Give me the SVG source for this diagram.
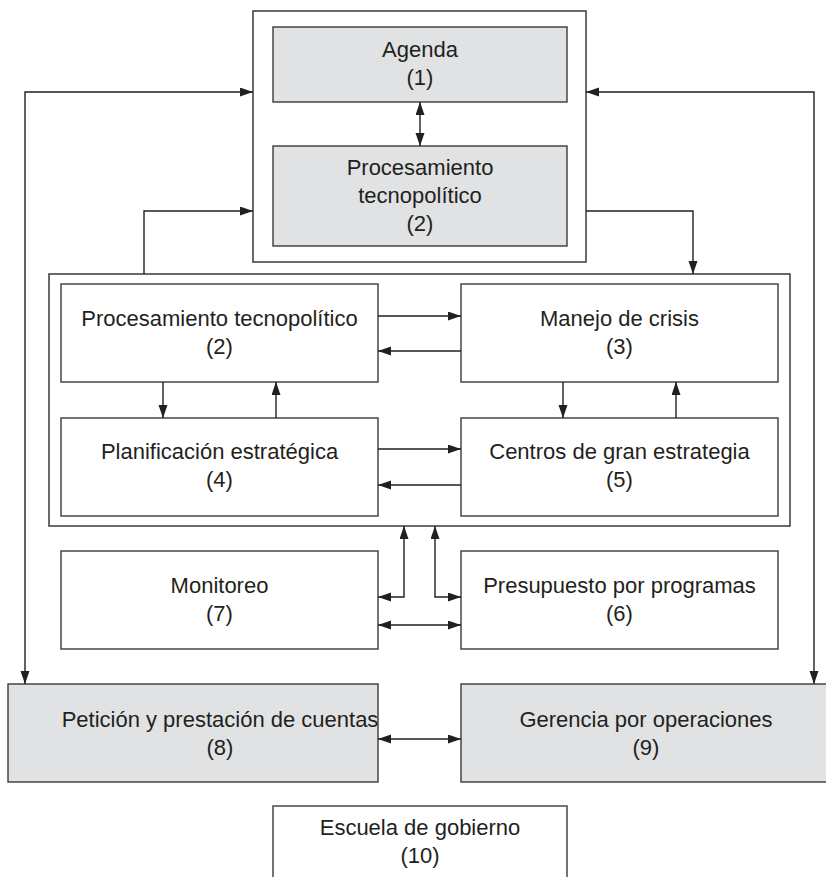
<svg xmlns="http://www.w3.org/2000/svg" width="826" height="877" viewBox="0 0 826 877">
<defs>
<marker id="ah" markerUnits="userSpaceOnUse" markerWidth="14" markerHeight="10" refX="13" refY="4.5" orient="auto-start-reverse">
<path d="M0,0 L13,4.5 L0,9 z" fill="#231f20"/>
</marker>
<style>
.bx{fill:#ffffff;stroke:#3a3a3a;stroke-width:1.4}
.gr{fill:#e1e2e4;stroke:#3a3a3a;stroke-width:1.4}
.frame{fill:none;stroke:#3a3a3a;stroke-width:1.5}
.t{font-family:"Liberation Sans",Arial,sans-serif;font-size:22px;fill:#231f20;text-anchor:middle}
.c{fill:none;stroke:#231f20;stroke-width:1.4}
.one{marker-end:url(#ah)}
.two{marker-start:url(#ah);marker-end:url(#ah)}
</style>
</defs>
<rect width="826" height="877" fill="#ffffff"/>
<g id="frames">
<rect class="frame" x="253" y="11" width="333" height="251"/>
<rect class="frame" x="49" y="274" width="741" height="252"/>
</g>
<g id="n1"><rect class="gr" x="273" y="27" width="294" height="75"/>
<text class="t" x="420" y="57">Agenda</text><text class="t" x="420" y="85">(1)</text></g>
<g id="n2top"><rect class="gr" x="273" y="146" width="294" height="100"/>
<text class="t" x="420" y="175">Procesamiento</text><text class="t" x="420" y="203">tecnopolítico</text><text class="t" x="420" y="231">(2)</text></g>
<g id="n2"><rect class="bx" x="61" y="284" width="317" height="98"/>
<text class="t" x="219.5" y="326">Procesamiento tecnopolítico</text><text class="t" x="219.5" y="354">(2)</text></g>
<g id="n3"><rect class="bx" x="461" y="284" width="317" height="98"/>
<text class="t" x="619.5" y="326">Manejo de crisis</text><text class="t" x="619.5" y="354">(3)</text></g>
<g id="n4"><rect class="bx" x="61" y="418" width="317" height="98"/>
<text class="t" x="219.5" y="459">Planificación estratégica</text><text class="t" x="219.5" y="487">(4)</text></g>
<g id="n5"><rect class="bx" x="461" y="418" width="317" height="98"/>
<text class="t" x="619.5" y="459">Centros de gran estrategia</text><text class="t" x="619.5" y="487">(5)</text></g>
<g id="n7"><rect class="bx" x="61" y="551" width="317" height="98"/>
<text class="t" x="219.5" y="593">Monitoreo</text><text class="t" x="219.5" y="621">(7)</text></g>
<g id="n6"><rect class="bx" x="461" y="551" width="317" height="98"/>
<text class="t" x="619.5" y="593">Presupuesto por programas</text><text class="t" x="619.5" y="621">(6)</text></g>
<g id="n8"><rect class="gr" x="8" y="684" width="370" height="98"/>
<text class="t" x="220" y="727">Petición y prestación de cuentas</text><text class="t" x="220" y="755">(8)</text></g>
<g id="n9"><rect class="gr" x="461" y="684" width="370" height="98"/>
<text class="t" x="646" y="727">Gerencia por operaciones</text><text class="t" x="646" y="755">(9)</text></g>
<g id="n10"><rect class="bx" x="273" y="806" width="294" height="90"/>
<text class="t" x="420" y="835">Escuela de gobierno</text><text class="t" x="420" y="863">(10)</text></g>
<g id="connectors">
<path class="c two" d="M25,684 V92 H253"/>
<path class="c two" d="M814,684 V92 H586"/>
<path class="c one" d="M144,274 V211 H253"/>
<path class="c one" d="M586,211 H693 V274"/>
<path class="c two" d="M420,102 V146"/>
<path class="c one" d="M378,316 H461"/>
<path class="c one" d="M461,351 H378"/>
<path class="c one" d="M378,449 H461"/>
<path class="c one" d="M461,485 H378"/>
<path class="c one" d="M163,382 V418"/>
<path class="c one" d="M276,418 V382"/>
<path class="c one" d="M563,382 V418"/>
<path class="c one" d="M676,418 V382"/>
<path class="c two" d="M378,597 H404 V526"/>
<path class="c two" d="M461,597 H435 V526"/>
<path class="c two" d="M378,625 H461"/>
<path class="c two" d="M378,739 H461"/>
</g>
</svg>
